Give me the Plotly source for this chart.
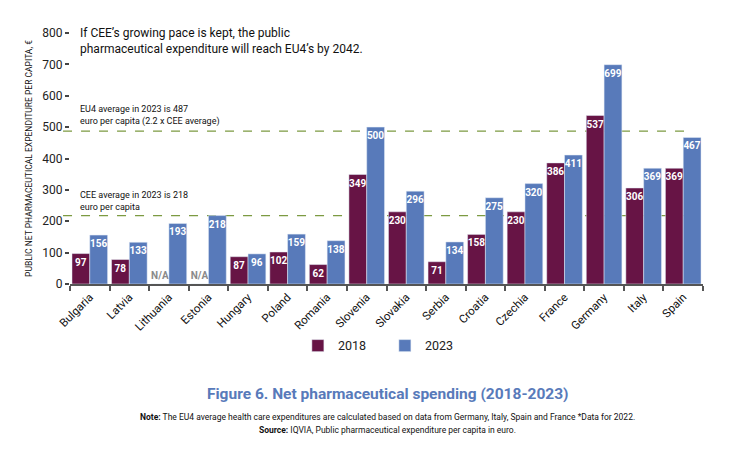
import plotly.graph_objects as go

countries = ["Bulgaria", "Latvia", "Lithuania", "Estonia", "Hungary", "Poland",
             "Romania", "Slovenia", "Slovakia", "Serbia", "Croatia", "Czechia",
             "France", "Germany", "Italy", "Spain"]
spend_2018 = [97, 78, None, None, 87, 102, 62, 349, 230, 71, 158, 230, 386, 537, 306, 369]
spend_2023 = [156, 133, 193, 218, 96, 159, 138, 500, 296, 134, 275, 320, 411, 699, 369, 467]
eu4_avg = 487
cee_avg = 218

PURPLE = "#671445"
BLUE = "#587ABA"
GREEN = "#7C9A42"
FONT = "Roboto"

# missing 2018 values are drawn as zero-height bars labelled N/A
y18 = [v if v is not None else 0 for v in spend_2018]
txt18 = [str(v) if v is not None else "N/A" for v in spend_2018]
pos18 = ["inside" if v is not None else "outside" for v in spend_2018]
col18 = ["white" if v is not None else "#8a8a8a" for v in spend_2018]

fig = go.Figure()
fig.add_trace(go.Bar(
    x=countries, y=y18, name="2018", marker_color=PURPLE,
    text=txt18, textposition=pos18, insidetextanchor="end",
    textangle=0, constraintext="none", cliponaxis=False,
    textfont=dict(color=col18, size=10, family=FONT, weight="bold"),
))
fig.add_trace(go.Bar(
    x=countries, y=spend_2023, name="2023", marker_color=BLUE,
    text=[str(v) for v in spend_2023], textposition="inside", insidetextanchor="end",
    textangle=0, constraintext="none",
    textfont=dict(color="white", size=10, family=FONT, weight="bold"),
))

# average reference lines
for val in (eu4_avg, cee_avg):
    fig.add_shape(type="line", xref="paper", yref="y", x0=-0.011, x1=0.98, y0=val, y1=val,
                  line=dict(color=GREEN, width=1.2, dash="dash"), layer="below")

fig.add_annotation(xref="paper", yref="paper", x=0.0125, y=0.967, xanchor="left", yanchor="middle",
                   text="If CEE’s growing pace is kept, the public<br>pharmaceutical expenditure will reach EU4’s by 2042.",
                   showarrow=False, align="left", font=dict(size=12, color="#111", family=FONT))
fig.add_annotation(xref="paper", yref="y", x=0.0125, y=eu4_avg, yshift=2, xanchor="left", yanchor="bottom",
                   text="EU4 average in 2023 is 487<br>euro per capita (2.2 x CEE average)",
                   showarrow=False, align="left", font=dict(size=9, color="#111", family=FONT))
fig.add_annotation(xref="paper", yref="y", x=0.0125, y=cee_avg, yshift=2, xanchor="left", yanchor="bottom",
                   text="CEE average in 2023 is 218<br>euro per capita",
                   showarrow=False, align="left", font=dict(size=9, color="#111", family=FONT))

# caption block
fig.add_annotation(xref="paper", yref="paper", x=0.502, y=-0.437, xanchor="center", yanchor="middle",
                   text="<b>Figure 6. Net pharmaceutical spending (2018-2023)</b>",
                   showarrow=False, font=dict(size=15.5, color=BLUE, family=FONT))
fig.add_annotation(xref="paper", yref="paper", x=0.502, y=-0.530, xanchor="center", yanchor="middle",
                   text="<b>Note:</b> The EU4 average health care expenditures are calculated based on data from Germany, Italy, Spain and France *Data for 2022.",
                   showarrow=False, font=dict(size=8.5, color="#111", family=FONT))
fig.add_annotation(xref="paper", yref="paper", x=0.502, y=-0.582, xanchor="center", yanchor="middle",
                   text="<b>Source:</b> IQVIA, Public pharmaceutical expenditure per capita in euro.",
                   showarrow=False, font=dict(size=8.5, color="#111", family=FONT))

# the page body has an 8px margin, so the figure is 8px smaller than the window
fig.update_layout(
    width=721, height=449,
    margin=dict(l=62, r=26, t=25, b=173),
    paper_bgcolor="white", plot_bgcolor="white",
    barmode="group", bargap=0.1, bargroupgap=0,
    font=dict(family=FONT, color="#222"),
    showlegend=True,
    legend=dict(orientation="h", x=0.36, xanchor="left", y=-0.247, yanchor="middle",
                font=dict(size=12.5, color="#222"), traceorder="normal", entrywidth=42),
)
fig.update_yaxes(range=[0, 800], dtick=100, showgrid=False, zeroline=False, showline=False,
                 ticks="outside", ticklen=4, tickwidth=2, tickcolor="#444",
                 tickfont=dict(size=12, color="#222"),
                 title=dict(text="PUBLIC NET PHARMACEUTICAL EXPENDITURE PER CAPITA, €",
                            font=dict(size=8.5, color="#111"), standoff=8))
fig.update_xaxes(showline=True, linecolor="#555", linewidth=2, ticks="outside",
                 tickson="boundaries", ticklen=5, tickwidth=2, tickcolor="#555",
                 tickangle=-45, tickfont=dict(size=11.5, color="#111"))

fig.write_html("out.html")
